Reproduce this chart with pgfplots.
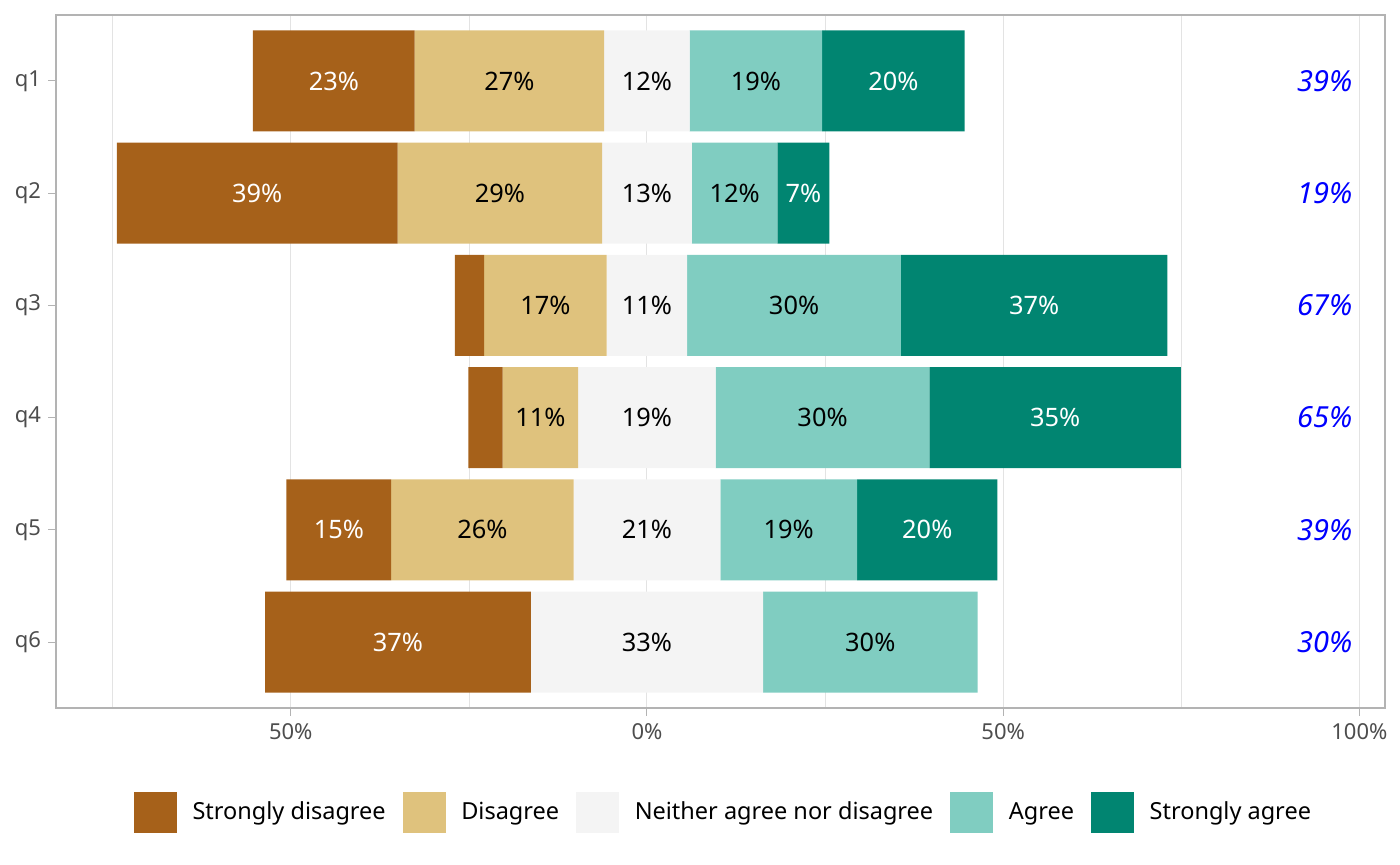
\documentclass[border=0pt]{standalone}
\usepackage{fontspec}
\setmainfont{Noto Sans}
\usepackage{pgfplots}
\usepackage{pgfplotstable}
\pgfplotsset{compat=1.18}
\definecolor{sd}{HTML}{A6611A}
\definecolor{di}{HTML}{DFC27D}
\definecolor{ne}{HTML}{F4F4F4}
\definecolor{ag}{HTML}{80CDC1}
\definecolor{sa}{HTML}{018571}
\definecolor{g70}{HTML}{B3B3B3}
\definecolor{g30}{HTML}{4D4D4D}
\definecolor{gridc}{HTML}{E3E3E3}
\definecolor{totc}{HTML}{0000FF}

% q1 at y=6 ... q6 at y=1; off = left end of the bar
\pgfplotstableread{
y off sd di ne ag sa
6 -55.3 22.7 26.6 12.0 18.6 20.0
5 -74.4 39.4 28.7 12.6 12.0 7.3
4 -26.95 4.1 17.2 11.3 30.0 37.4
3 -25.05 4.8 10.6 19.3 30.0 35.3
2 -50.6 14.7 25.6 20.6 19.2 19.7
1 -53.6 37.3 0 32.6 30.1 0
}\bars

\pgfplotstableread{
x y label
-43.95 6 23
34.6 6 20
-54.7 5 39
21.95 5 7
54.35 4 37
57.3 3 35
-43.25 2 15
39.35 2 20
-34.95 1 37
}\whitelabels

\pgfplotstableread{
x y label
-19.3 6 27
0 6 12
15.3 6 19
-20.65 5 29
0 5 13
12.3 5 12
-14.25 4 17
0 4 11
20.65 4 30
-14.95 3 11
0 3 19
24.65 3 30
-23.1 2 26
0 2 21
19.9 2 19
0 1 33
31.35 1 30
}\blacklabels

\pgfplotstableread{
x y label
99.05 6 39
99.05 5 19
99.05 4 67
99.05 3 65
99.05 2 39
99.05 1 30
}\totals

\pgfplotsset{
  common/.style={
    scale only axis, width=664.5pt, height=346.5pt,
    at={(28pt,78.5pt)}, anchor=south west,
    xmin=-82.95, xmax=103.6, ymin=0.412, ymax=6.588,
  },
  lab/.style={draw=none, mark=none,
    point meta=explicit symbolic, forget plot,
    nodes near coords={\pgfplotspointmeta\%}},
}

\begin{document}
\begin{tikzpicture}
\begin{axis}[common,
  xbar stacked, stack negative=on previous, bar width=0.9,
  axis line style={g70, line width=0.8pt},
  xtick={-50,0,50,100}, xticklabels={50\%,0\%,50\%,100\%},
  minor xtick={-75,-25,25,75},
  ytick={1,2,3,4,5,6}, yticklabels={q6,q5,q4,q3,q2,q1},
  xmajorgrids, xminorgrids, ymajorgrids=false,
  major grid style={gridc, line width=0.5pt},
  minor grid style={gridc, line width=0.35pt},
  tick align=outside, major tick length=4pt, minor tick length=0pt,
  tick style={g70, line width=0.5pt},
  xtick pos=bottom, ytick pos=left,
  tick label style={font=\fontsize{11}{13}\selectfont, text=g30},
]
\addplot[draw=none, fill=none] table[x=off, y=y] {\bars};
\addplot[fill=sd, draw=none] table[x=sd, y=y] {\bars};
\addplot[fill=di, draw=none] table[x=di, y=y] {\bars};
\addplot[fill=ne, draw=none] table[x=ne, y=y] {\bars};
\addplot[fill=ag, draw=none] table[x=ag, y=y] {\bars};
\addplot[fill=sa, draw=none] table[x=sa, y=y] {\bars};
\end{axis}

\begin{axis}[common, axis lines=none, ticks=none, clip=false,
  legend columns=5,
  legend cell align=left,
  legend image code/.code={\fill[#1] (0pt,-10.4pt) rectangle (21.5pt,10.4pt);},
  legend style={at={(0.5015,-0.1508)}, anchor=center, draw=none, fill=none,
    font=\fontsize{11.75}{14}\selectfont,
    /tikz/every odd column/.append style={column sep=7.8pt},
    /tikz/every even column/.append style={column sep=8.5pt},
    nodes={inner sep=0pt}},
]
\addlegendimage{fill=sd, draw=none}
\addlegendentry{Strongly disagree}
\addlegendimage{fill=di, draw=none}
\addlegendentry{Disagree}
\addlegendimage{fill=ne, draw=none}
\addlegendentry{Neither agree nor disagree}
\addlegendimage{fill=ag, draw=none}
\addlegendentry{Agree}
\addlegendimage{fill=sa, draw=none}
\addlegendentry{Strongly agree}
\addplot[lab,
  every node near coord/.style={anchor=center, inner sep=0pt, text=white,
    font=\fontsize{12.7}{15}\selectfont}]
  table[x=x, y=y, meta=label] {\whitelabels};
\addplot[lab,
  every node near coord/.style={anchor=center, inner sep=0pt, text=black,
    font=\fontsize{12.7}{15}\selectfont}]
  table[x=x, y=y, meta=label] {\blacklabels};
\addplot[lab,
  every node near coord/.style={anchor=east, inner sep=0pt, text=totc,
    font=\fontsize{14.5}{17}\selectfont\itshape}]
  table[x=x, y=y, meta=label] {\totals};
\end{axis}
\path[use as bounding box] (0,0) rectangle (700pt,432.5pt);
\end{tikzpicture}
\end{document}
